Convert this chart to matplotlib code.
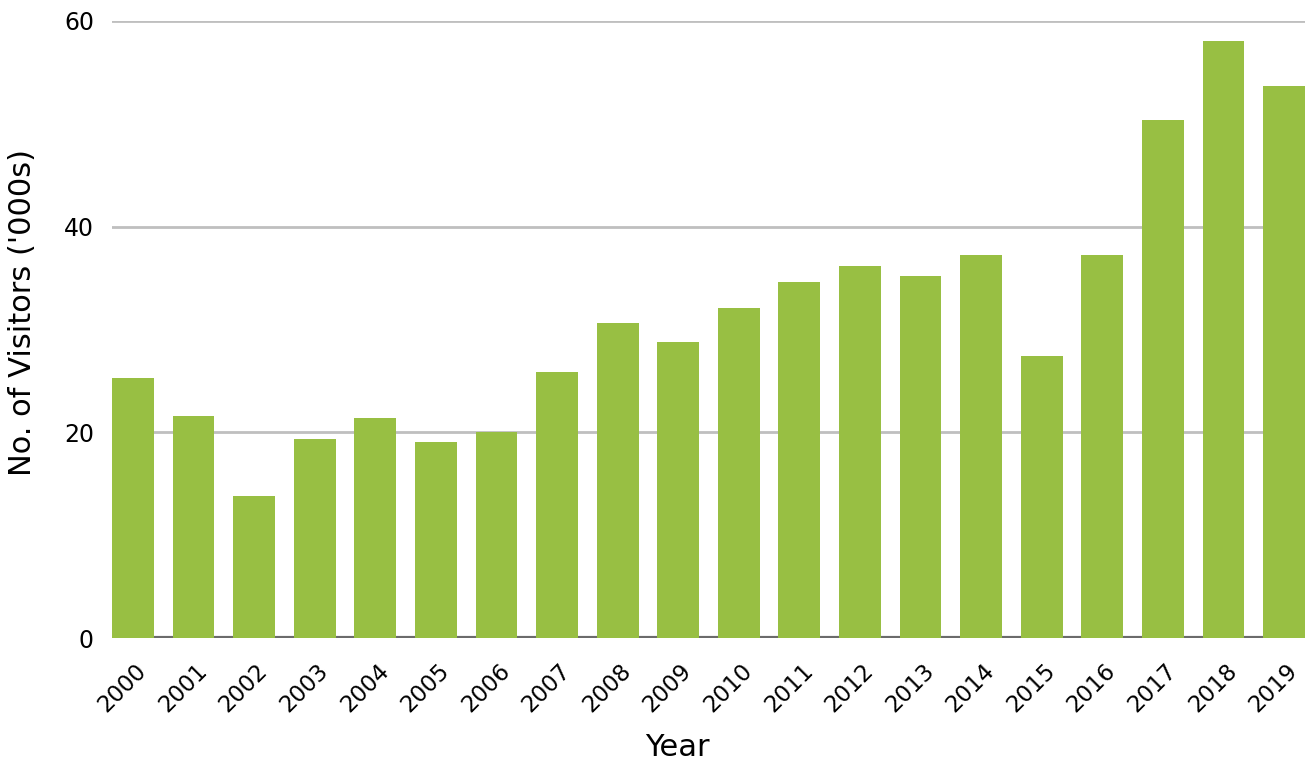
import matplotlib
matplotlib.use("Agg")
import matplotlib.pyplot as plt
import matplotlib.transforms as mtransforms
import numpy as np

# data
years = [str(y) for y in range(2000, 2020)]
visitors = [25.3, 21.6, 13.8, 19.4, 21.4, 19.1, 20.0, 25.9, 30.6, 28.8,
            32.1, 34.6, 36.2, 35.2, 37.2, 27.4, 37.2, 50.4, 58.1, 53.7]
y_ticks = [0, 20, 40, 60]

BAR_COLOR = '#98bf43'
GRID_COLOR = '#bfbfbf'
BASE_COLOR = '#6b6b6b'

plt.rcParams['font.family'] = ['DejaVu Sans']

fig = plt.figure(figsize=(13.05, 7.63), dpi=100)
ax = fig.add_axes([0.0858, 0.1638, 0.9142, 0.8087])

x = np.arange(len(years))
width = 0.69
ax.bar(x, visitors, width, color=BAR_COLOR, zorder=3)

ax.set_xlim(-width / 2, len(years) - 1 + width / 2)
ax.set_ylim(0, 60)

# grid lines + baseline
ax.set_yticks(y_ticks)
ax.yaxis.grid(True, color=GRID_COLOR, linewidth=2)
ax.set_axisbelow(True)
ax.axhline(0, color=BASE_COLOR, linewidth=3, zorder=2)

for s in ax.spines.values():
    s.set_visible(False)

ax.set_xticks(x)
ax.set_xticklabels(years, rotation=45, ha='right', va='top',
                   rotation_mode='anchor', fontsize=16.5)
ax.tick_params(axis='x', length=0, pad=15)
ax.tick_params(axis='y', length=0, pad=13, labelsize=17)

# nudge the rotated year labels slightly right
shift = mtransforms.ScaledTranslation(2 / 100, 0, fig.dpi_scale_trans)
for lbl in ax.get_xticklabels():
    lbl.set_transform(lbl.get_transform() + shift)

ax.set_xlabel("Year", fontsize=22)
ax.xaxis.set_label_coords(0.474, -0.178)
ax.xaxis.label.set_va('center')

ax.set_ylabel("No. of Visitors ('000s)", fontsize=22)
ax.yaxis.set_label_coords(-0.0754, 0.528)
ax.yaxis.label.set_va('center')

fig.savefig("out.png", dpi=100)
